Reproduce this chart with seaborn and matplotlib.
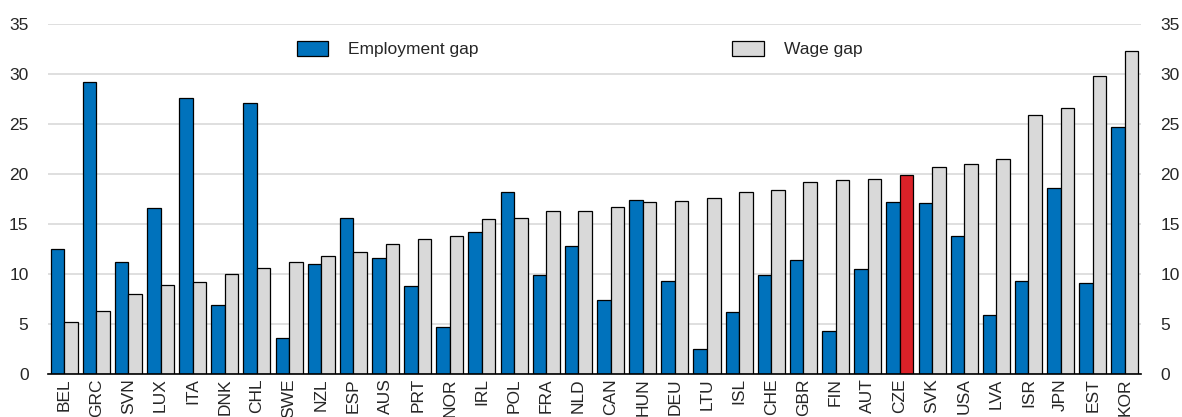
import numpy as np
import pandas as pd
import matplotlib
matplotlib.use("Agg")
import matplotlib.pyplot as plt
import seaborn as sns

countries = ["BEL", "GRC", "SVN", "LUX", "ITA", "DNK", "CHL", "SWE", "NZL", "ESP",
             "AUS", "PRT", "NOR", "IRL", "POL", "FRA", "NLD", "CAN", "HUN", "DEU",
             "LTU", "ISL", "CHE", "GBR", "FIN", "AUT", "CZE", "SVK", "USA", "LVA",
             "ISR", "JPN", "EST", "KOR"]
employment_gap = [12.5, 29.2, 11.2, 16.6, 27.6, 6.9, 27.1, 3.6, 11.0, 15.6,
                  11.6, 8.8, 4.7, 14.2, 18.2, 9.9, 12.8, 7.4, 17.4, 9.3,
                  2.5, 6.2, 9.9, 11.4, 4.3, 10.5, 17.2, 17.1, 13.8, 5.9,
                  9.3, 18.6, 9.1, 24.7]
wage_gap = [5.2, 6.3, 8.0, 8.9, 9.2, 10.0, 10.6, 11.2, 11.8, 12.2,
            13.0, 13.5, 13.8, 15.5, 15.6, 16.3, 16.3, 16.7, 17.2, 17.3,
            17.6, 18.2, 18.4, 19.2, 19.4, 19.5, 19.9, 20.7, 21.0, 21.5,
            25.9, 26.6, 29.8, 32.3]
series_names = ["Employment gap", "Wage gap"]
highlight = "CZE"

df = pd.DataFrame({
    "country": countries * 2,
    "value": employment_gap + wage_gap,
    "series": [series_names[0]] * len(countries) + [series_names[1]] * len(countries),
})

sns.set_style("white")
plt.rcParams["font.family"] = ["Liberation Sans", "DejaVu Sans"]

BLUE = "#0072BC"
GREY = "#D9D9D9"
RED = "#DA2128"

fig = plt.figure(figsize=(11.82, 4.17), dpi=100)
ax = fig.add_axes([0.0406, 0.103, 0.9247, 0.8394])

sns.barplot(data=df, x="country", y="value", hue="series", order=countries,
            hue_order=series_names, palette=[BLUE, GREY], width=0.84, gap=0,
            edgecolor="black", linewidth=0.9, ax=ax, saturation=1)

# highlight CZE wage bar
idx = countries.index(highlight)
ax.containers[1][idx].set_facecolor(RED)

ax.set_ylim(0, 35)
ax.set_xlim(-0.5, len(countries) - 0.5)
ax.set_yticks(range(0, 36, 5))
ax.yaxis.grid(True, color="#D9D9D9", linewidth=1.2)
ax.set_axisbelow(True)
ax.set_xlabel("")
ax.set_ylabel("")
for s in ["top", "right", "left"]:
    ax.spines[s].set_visible(False)
ax.spines["bottom"].set_color("black")
ax.spines["bottom"].set_linewidth(1.2)
ax.tick_params(axis="y", length=0, labelsize=12.5, pad=14)
ax.tick_params(axis="x", length=0, labelsize=12.5, rotation=90, pad=3)

ax2 = ax.twinx()
ax2.set_ylim(0, 35)
ax2.set_yticks(range(0, 36, 5))
for s in ["top", "right", "left", "bottom"]:
    ax2.spines[s].set_visible(False)
ax2.tick_params(axis="y", length=0, labelsize=12.5, pad=14)
ax2.grid(False)

leg = ax.legend(loc="upper left", bbox_to_anchor=(0.228, 0.951), ncol=2, frameon=False,
                fontsize=12.5, columnspacing=14.6, handlelength=1.8, handleheight=0.9,
                handletextpad=1.15, borderpad=0, borderaxespad=0)

fig.savefig("out.png", dpi=100)
